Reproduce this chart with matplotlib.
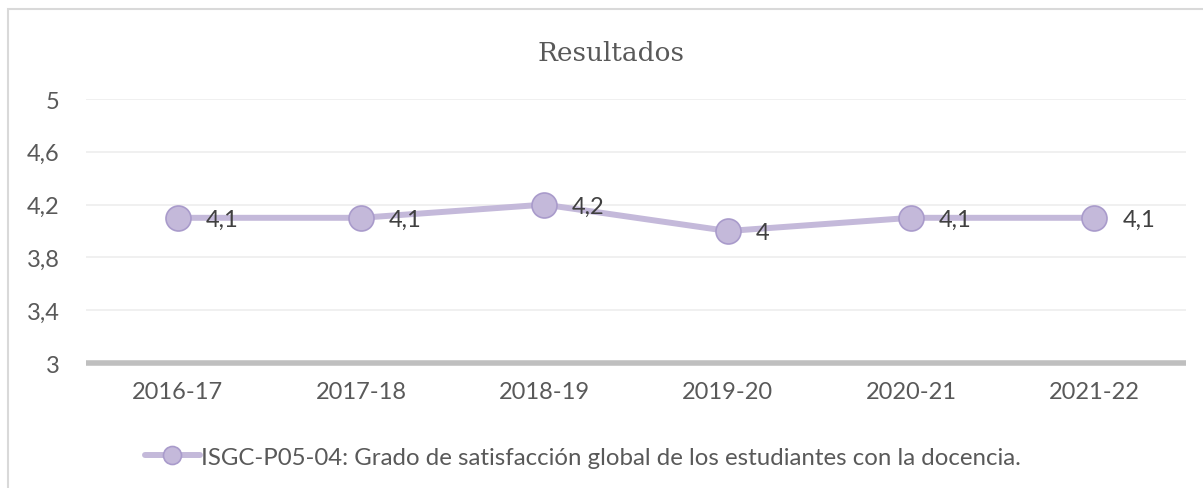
import matplotlib.pyplot as plt
from matplotlib.patches import Rectangle

# Data
cursos = ['2016-17', '2017-18', '2018-19', '2019-20', '2020-21', '2021-22']
valores = [4.1, 4.1, 4.2, 4.0, 4.1, 4.1]
etiquetas = ['4,1', '4,1', '4,2', '4', '4,1', '4,1']
yticks = [3, 3.4, 3.8, 4.2, 4.6, 5]
ytick_labels = ['3', '3,4', '3,8', '4,2', '4,6', '5']
serie = 'ISGC-P05-04: Grado de satisfacción global de los estudiantes con la docencia.'

plt.rcParams['font.family'] = ['Lato', 'DejaVu Sans']
fs = 17

fig = plt.figure(figsize=(12.03, 4.89), dpi=100)
ax = fig.add_axes([0.0715, 0.2556, 0.9145, 0.5399])

# chart frame
fig.patches.append(Rectangle((8 / 1203, -0.1), 1.2, 1 - 10 / 489 + 0.1,
                             transform=fig.transFigure, fill=False,
                             edgecolor='#D9D9D9', linewidth=1.5))

x = range(len(cursos))
ax.plot(x, valores, color='#C4B9DA', linewidth=4.3, marker='o', markersize=18,
        markerfacecolor='#C4B9DA', markeredgecolor='#A99BCB', markeredgewidth=1.2,
        solid_capstyle='round', label=serie, zorder=3)

for xi, v, t in zip(x, valores, etiquetas):
    ax.annotate(t, (xi, v), xytext=(20, -1), textcoords='offset points',
                ha='left', va='center', fontsize=fs, color='#404040')

ax.set_xlim(-0.5, len(cursos) - 0.5)
ax.set_ylim(3, 5)
ax.set_xticks(list(x))
ax.set_xticklabels(cursos, fontsize=fs, color='#595959')
ax.set_yticks(yticks)
ax.set_yticklabels(ytick_labels, fontsize=fs, color='#595959')
ax.tick_params(axis='x', length=0, pad=13)
ax.tick_params(axis='y', length=0, pad=19)

ax.grid(axis='y', color='#EDEDED', linewidth=1.2)
ax.set_axisbelow(True)
for s in ['top', 'right', 'left']:
    ax.spines[s].set_visible(False)
ax.spines['bottom'].set_color('#BFBFBF')
ax.spines['bottom'].set_linewidth(4)
ax.spines['bottom'].set_capstyle('butt')

fig.text(0.508, 0.89, 'Resultados', ha='center', va='center',
         fontsize=19, color='#595959', family=['DejaVu Serif'])

fig.legend(handles=ax.get_lines(), loc='center', bbox_to_anchor=(583 / 1203, 0.063),
           frameon=False, fontsize=17.3, labelcolor='#595959', handlelength=2.3,
           handletextpad=0.05, markerscale=0.72)

plt.savefig('out.png', dpi=100)
